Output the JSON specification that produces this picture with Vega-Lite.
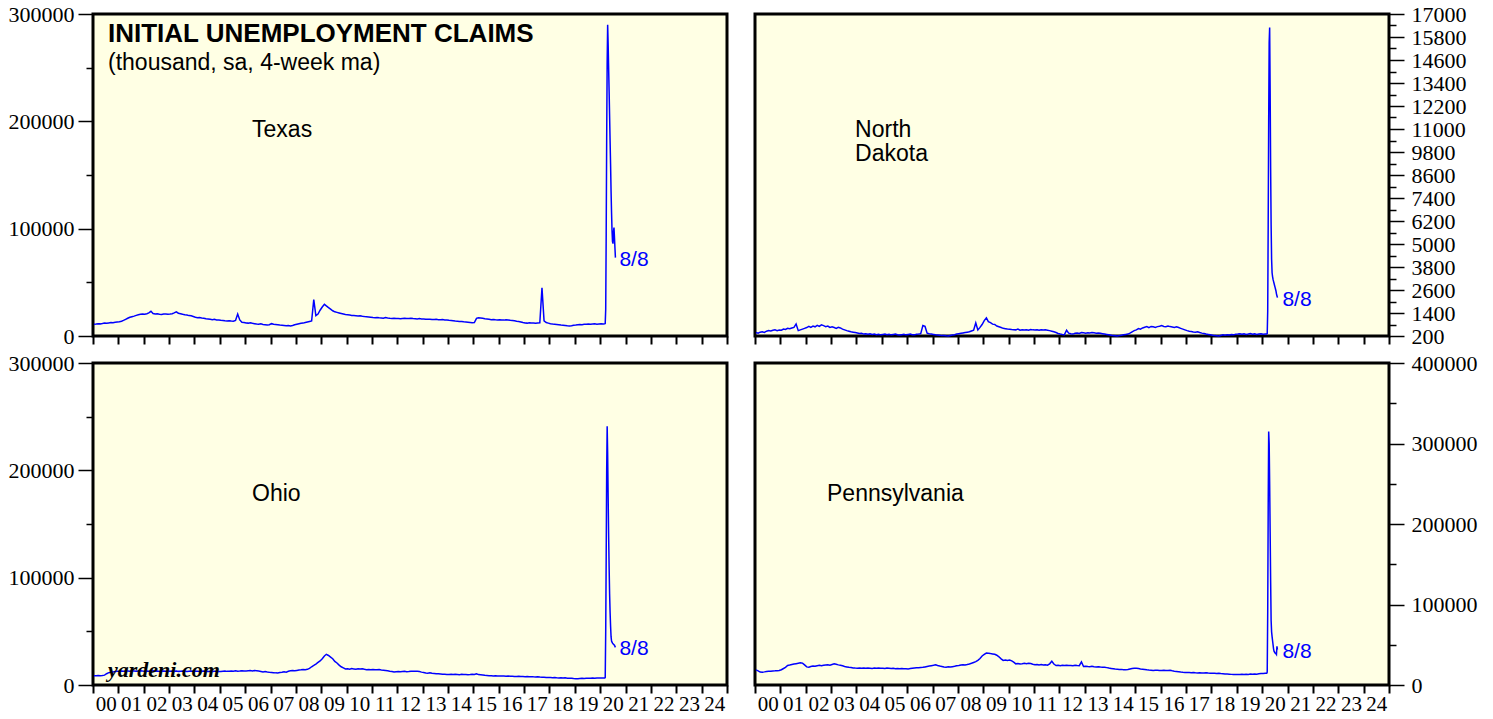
{
"$schema": "https://vega.github.io/schema/vega-lite/v6.json",
"background": "white",
"padding": {"left": 6, "top": 1, "right": 5, "bottom": 0},
"config": {
  "view": {"fill": "#FFFFE4", "stroke": "black", "strokeWidth": 3},
  "axis": {"labelFont": "Liberation Serif", "labelFontSize": 22, "labelColor": "black", "tickColor": "black", "domain": false, "grid": false, "title": null, "tickWidth": 1.5},
  "text": {"font": "Liberation Sans"},
  "line": {"color": "#0000FF", "strokeWidth": 1.5}
},
"datasets": {"m": [
{"d":"2000-01-15","tx":11000,"nd":380,"oh":8700,"pa":18800},
{"d":"2000-02-15","tx":11200,"nd":350,"oh":8600,"pa":17500},
{"d":"2000-03-15","tx":11500,"nd":400,"oh":8800,"pa":16000},
{"d":"2000-04-15","tx":11300,"nd":420,"oh":8700,"pa":15900},
{"d":"2000-05-15","tx":11600,"nd":390,"oh":8900,"pa":16300},
{"d":"2000-06-15","tx":12000,"nd":450,"oh":9200,"pa":16800},
{"d":"2000-07-15","tx":11800,"nd":480,"oh":10500,"pa":17000},
{"d":"2000-08-15","tx":12200,"nd":460,"oh":11500,"pa":17200},
{"d":"2000-09-15","tx":12500,"nd":500,"oh":11900,"pa":17500},
{"d":"2000-10-15","tx":12400,"nd":520,"oh":12200,"pa":17600},
{"d":"2000-11-15","tx":12800,"nd":480,"oh":12500,"pa":17800},
{"d":"2000-12-15","tx":13000,"nd":510,"oh":12800,"pa":18000},
{"d":"2001-01-15","tx":13200,"nd":500,"oh":12900,"pa":19000},
{"d":"2001-02-15","tx":13800,"nd":560,"oh":13000,"pa":20500},
{"d":"2001-03-15","tx":14500,"nd":540,"oh":12800,"pa":22000},
{"d":"2001-04-15","tx":15500,"nd":600,"oh":13100,"pa":24200},
{"d":"2001-05-15","tx":16500,"nd":580,"oh":13000,"pa":24800},
{"d":"2001-06-15","tx":17500,"nd":620,"oh":12900,"pa":25500},
{"d":"2001-07-15","tx":18000,"nd":650,"oh":13200,"pa":26000},
{"d":"2001-08-15","tx":18500,"nd":830,"oh":13000,"pa":26500},
{"d":"2001-09-15","tx":19200,"nd":480,"oh":12800,"pa":27000},
{"d":"2001-10-15","tx":19800,"nd":520,"oh":13100,"pa":27500},
{"d":"2001-11-15","tx":20200,"nd":560,"oh":13300,"pa":27200},
{"d":"2001-12-15","tx":20500,"nd":600,"oh":13000,"pa":25000},
{"d":"2002-01-15","tx":20300,"nd":640,"oh":12900,"pa":22500},
{"d":"2002-02-15","tx":20800,"nd":700,"oh":13100,"pa":22100},
{"d":"2002-03-15","tx":21500,"nd":650,"oh":12800,"pa":23000},
{"d":"2002-04-15","tx":23000,"nd":720,"oh":13000,"pa":23500},
{"d":"2002-05-15","tx":21000,"nd":680,"oh":13200,"pa":23200},
{"d":"2002-06-15","tx":20500,"nd":760,"oh":12900,"pa":24000},
{"d":"2002-07-15","tx":20800,"nd":700,"oh":13100,"pa":24500},
{"d":"2002-08-15","tx":20200,"nd":780,"oh":12700,"pa":23800},
{"d":"2002-09-15","tx":20000,"nd":740,"oh":12900,"pa":24400},
{"d":"2002-10-15","tx":20400,"nd":690,"oh":13000,"pa":24800},
{"d":"2002-11-15","tx":20600,"nd":720,"oh":12800,"pa":25100},
{"d":"2002-12-15","tx":20300,"nd":650,"oh":13000,"pa":24700},
{"d":"2003-01-15","tx":20500,"nd":680,"oh":12800,"pa":25500},
{"d":"2003-02-15","tx":20800,"nd":640,"oh":13000,"pa":26300},
{"d":"2003-03-15","tx":21500,"nd":600,"oh":12900,"pa":25800},
{"d":"2003-04-15","tx":22500,"nd":650,"oh":13100,"pa":25000},
{"d":"2003-05-15","tx":21200,"nd":620,"oh":12700,"pa":24500},
{"d":"2003-06-15","tx":20800,"nd":560,"oh":12900,"pa":23800},
{"d":"2003-07-15","tx":20200,"nd":520,"oh":13000,"pa":23000},
{"d":"2003-08-15","tx":19800,"nd":480,"oh":12800,"pa":22500},
{"d":"2003-09-15","tx":19500,"nd":450,"oh":12600,"pa":22000},
{"d":"2003-10-15","tx":19000,"nd":420,"oh":12900,"pa":21600},
{"d":"2003-11-15","tx":18800,"nd":400,"oh":13000,"pa":21200},
{"d":"2003-12-15","tx":18200,"nd":380,"oh":12800,"pa":21000},
{"d":"2004-01-15","tx":17500,"nd":360,"oh":12700,"pa":20900},
{"d":"2004-02-15","tx":17000,"nd":330,"oh":12900,"pa":21200},
{"d":"2004-03-15","tx":17200,"nd":340,"oh":12600,"pa":20800},
{"d":"2004-04-15","tx":16800,"nd":300,"oh":12800,"pa":21000},
{"d":"2004-05-15","tx":16500,"nd":320,"oh":13000,"pa":20700},
{"d":"2004-06-15","tx":16000,"nd":290,"oh":12700,"pa":21100},
{"d":"2004-07-15","tx":15800,"nd":310,"oh":12500,"pa":20900},
{"d":"2004-08-15","tx":15500,"nd":280,"oh":12800,"pa":20600},
{"d":"2004-09-15","tx":15200,"nd":300,"oh":12600,"pa":21000},
{"d":"2004-10-15","tx":15500,"nd":270,"oh":12900,"pa":20800},
{"d":"2004-11-15","tx":15000,"nd":290,"oh":12700,"pa":21200},
{"d":"2004-12-15","tx":14800,"nd":260,"oh":12500,"pa":20900},
{"d":"2005-01-15","tx":14600,"nd":280,"oh":12600,"pa":20900},
{"d":"2005-02-15","tx":14500,"nd":300,"oh":12900,"pa":20600},
{"d":"2005-03-15","tx":14200,"nd":270,"oh":13000,"pa":21000},
{"d":"2005-04-15","tx":14000,"nd":290,"oh":12700,"pa":20800},
{"d":"2005-05-15","tx":14300,"nd":260,"oh":12800,"pa":20500},
{"d":"2005-06-15","tx":14000,"nd":280,"oh":13100,"pa":20700},
{"d":"2005-07-15","tx":13800,"nd":300,"oh":12900,"pa":20300},
{"d":"2005-08-15","tx":14500,"nd":270,"oh":13200,"pa":20600},
{"d":"2005-09-15","tx":20500,"nd":250,"oh":12800,"pa":20200},
{"d":"2005-10-15","tx":15000,"nd":270,"oh":13000,"pa":20400},
{"d":"2005-11-15","tx":12800,"nd":290,"oh":13300,"pa":20100},
{"d":"2005-12-15","tx":12500,"nd":260,"oh":13100,"pa":20300},
{"d":"2006-01-15","tx":12200,"nd":280,"oh":13000,"pa":20000},
{"d":"2006-02-15","tx":12000,"nd":300,"oh":13200,"pa":20400},
{"d":"2006-03-15","tx":12300,"nd":270,"oh":13400,"pa":20800},
{"d":"2006-04-15","tx":11800,"nd":260,"oh":13100,"pa":21200},
{"d":"2006-05-15","tx":11500,"nd":290,"oh":13600,"pa":21500},
{"d":"2006-06-15","tx":11200,"nd":300,"oh":13300,"pa":21300},
{"d":"2006-07-15","tx":11000,"nd":320,"oh":13000,"pa":21800},
{"d":"2006-08-15","tx":11300,"nd":750,"oh":12600,"pa":22000},
{"d":"2006-09-15","tx":10800,"nd":700,"oh":12200,"pa":22500},
{"d":"2006-10-15","tx":10500,"nd":350,"oh":12500,"pa":23000},
{"d":"2006-11-15","tx":10200,"nd":320,"oh":12100,"pa":23500},
{"d":"2006-12-15","tx":10500,"nd":300,"oh":11800,"pa":24000},
{"d":"2007-01-15","tx":11500,"nd":280,"oh":11700,"pa":24500},
{"d":"2007-02-15","tx":11000,"nd":260,"oh":11500,"pa":25100},
{"d":"2007-03-15","tx":10800,"nd":250,"oh":11300,"pa":24200},
{"d":"2007-04-15","tx":10500,"nd":240,"oh":11200,"pa":23500},
{"d":"2007-05-15","tx":10200,"nd":220,"oh":11600,"pa":23000},
{"d":"2007-06-15","tx":10000,"nd":230,"oh":11900,"pa":22400},
{"d":"2007-07-15","tx":9800,"nd":210,"oh":12300,"pa":22100},
{"d":"2007-08-15","tx":9500,"nd":200,"oh":12000,"pa":22600},
{"d":"2007-09-15","tx":9800,"nd":230,"oh":12800,"pa":22300},
{"d":"2007-10-15","tx":9300,"nd":250,"oh":13200,"pa":22800},
{"d":"2007-11-15","tx":9800,"nd":270,"oh":13500,"pa":23200},
{"d":"2007-12-15","tx":10500,"nd":300,"oh":13300,"pa":23900},
{"d":"2008-01-15","tx":11000,"nd":320,"oh":13600,"pa":24300},
{"d":"2008-02-15","tx":11500,"nd":340,"oh":13900,"pa":24800},
{"d":"2008-03-15","tx":11800,"nd":360,"oh":14100,"pa":25100},
{"d":"2008-04-15","tx":12000,"nd":380,"oh":14400,"pa":24900},
{"d":"2008-05-15","tx":12500,"nd":400,"oh":14200,"pa":25500},
{"d":"2008-06-15","tx":13000,"nd":420,"oh":14600,"pa":26200},
{"d":"2008-07-15","tx":13500,"nd":460,"oh":15500,"pa":27000},
{"d":"2008-08-15","tx":14000,"nd":500,"oh":17000,"pa":28000},
{"d":"2008-09-15","tx":34000,"nd":880,"oh":18200,"pa":29000},
{"d":"2008-10-15","tx":19000,"nd":520,"oh":19500,"pa":30600},
{"d":"2008-11-15","tx":20500,"nd":650,"oh":21000,"pa":33000},
{"d":"2008-12-15","tx":24000,"nd":800,"oh":22400,"pa":36000},
{"d":"2009-01-15","tx":27000,"nd":1000,"oh":24500,"pa":38000},
{"d":"2009-02-15","tx":29500,"nd":1150,"oh":27000,"pa":39700},
{"d":"2009-03-15","tx":28000,"nd":950,"oh":28600,"pa":39500},
{"d":"2009-04-15","tx":26500,"nd":900,"oh":27500,"pa":39000},
{"d":"2009-05-15","tx":25000,"nd":820,"oh":26000,"pa":38600},
{"d":"2009-06-15","tx":23500,"nd":800,"oh":24500,"pa":38100},
{"d":"2009-07-15","tx":22500,"nd":720,"oh":22000,"pa":37000},
{"d":"2009-08-15","tx":22000,"nd":680,"oh":20500,"pa":35000},
{"d":"2009-09-15","tx":21500,"nd":640,"oh":18500,"pa":32500},
{"d":"2009-10-15","tx":21000,"nd":600,"oh":17000,"pa":30600},
{"d":"2009-11-15","tx":20500,"nd":580,"oh":16000,"pa":31000},
{"d":"2009-12-15","tx":20000,"nd":560,"oh":15000,"pa":30500},
{"d":"2010-01-15","tx":19800,"nd":555,"oh":15200,"pa":31000},
{"d":"2010-02-15","tx":19500,"nd":540,"oh":14800,"pa":30000},
{"d":"2010-03-15","tx":19200,"nd":530,"oh":15300,"pa":28500},
{"d":"2010-04-15","tx":19000,"nd":520,"oh":15000,"pa":26300},
{"d":"2010-05-15","tx":18800,"nd":560,"oh":14700,"pa":26800},
{"d":"2010-06-15","tx":18600,"nd":500,"oh":15100,"pa":26100},
{"d":"2010-07-15","tx":18900,"nd":520,"oh":14900,"pa":26500},
{"d":"2010-08-15","tx":18500,"nd":510,"oh":15200,"pa":27000},
{"d":"2010-09-15","tx":18200,"nd":530,"oh":14600,"pa":26400},
{"d":"2010-10-15","tx":18000,"nd":500,"oh":14300,"pa":27000},
{"d":"2010-11-15","tx":17800,"nd":540,"oh":14500,"pa":26600},
{"d":"2010-12-15","tx":17500,"nd":520,"oh":14200,"pa":25800},
{"d":"2011-01-15","tx":17200,"nd":510,"oh":14400,"pa":25100},
{"d":"2011-02-15","tx":17000,"nd":520,"oh":14100,"pa":25500},
{"d":"2011-03-15","tx":17300,"nd":500,"oh":14200,"pa":25000},
{"d":"2011-04-15","tx":17000,"nd":530,"oh":14500,"pa":25400},
{"d":"2011-05-15","tx":16800,"nd":510,"oh":14000,"pa":24800},
{"d":"2011-06-15","tx":16500,"nd":520,"oh":13800,"pa":25200},
{"d":"2011-07-15","tx":17200,"nd":500,"oh":13500,"pa":24700},
{"d":"2011-08-15","tx":16800,"nd":480,"oh":13200,"pa":26300},
{"d":"2011-09-15","tx":16500,"nd":450,"oh":12800,"pa":29500},
{"d":"2011-10-15","tx":16300,"nd":420,"oh":12500,"pa":26000},
{"d":"2011-11-15","tx":16600,"nd":380,"oh":12100,"pa":24200},
{"d":"2011-12-15","tx":16400,"nd":330,"oh":12400,"pa":24500},
{"d":"2012-01-15","tx":16200,"nd":300,"oh":12600,"pa":24000},
{"d":"2012-02-15","tx":16000,"nd":280,"oh":12300,"pa":24400},
{"d":"2012-03-15","tx":16400,"nd":270,"oh":12500,"pa":24100},
{"d":"2012-04-15","tx":16500,"nd":500,"oh":12700,"pa":24600},
{"d":"2012-05-15","tx":16200,"nd":350,"oh":12400,"pa":24200},
{"d":"2012-06-15","tx":16300,"nd":320,"oh":12600,"pa":24300},
{"d":"2012-07-15","tx":16500,"nd":300,"oh":12900,"pa":24000},
{"d":"2012-08-15","tx":16200,"nd":340,"oh":12700,"pa":24500},
{"d":"2012-09-15","tx":16000,"nd":360,"oh":12900,"pa":24200},
{"d":"2012-10-15","tx":15800,"nd":330,"oh":12800,"pa":24000},
{"d":"2012-11-15","tx":16200,"nd":380,"oh":12500,"pa":28700},
{"d":"2012-12-15","tx":15900,"nd":370,"oh":12000,"pa":23000},
{"d":"2013-01-15","tx":15800,"nd":350,"oh":11600,"pa":23400},
{"d":"2013-02-15","tx":15600,"nd":370,"oh":11200,"pa":23000},
{"d":"2013-03-15","tx":15500,"nd":360,"oh":11000,"pa":22800},
{"d":"2013-04-15","tx":15700,"nd":380,"oh":11300,"pa":23200},
{"d":"2013-05-15","tx":15400,"nd":370,"oh":10900,"pa":22700},
{"d":"2013-06-15","tx":15300,"nd":350,"oh":10700,"pa":22500},
{"d":"2013-07-15","tx":15500,"nd":360,"oh":10500,"pa":22800},
{"d":"2013-08-15","tx":15200,"nd":340,"oh":10400,"pa":22400},
{"d":"2013-09-15","tx":15100,"nd":320,"oh":10200,"pa":22200},
{"d":"2013-10-15","tx":15300,"nd":300,"oh":10000,"pa":22100},
{"d":"2013-11-15","tx":15000,"nd":280,"oh":9900,"pa":21600},
{"d":"2013-12-15","tx":14800,"nd":260,"oh":9800,"pa":21000},
{"d":"2014-01-15","tx":14600,"nd":240,"oh":9800,"pa":20600},
{"d":"2014-02-15","tx":14500,"nd":220,"oh":9900,"pa":20200},
{"d":"2014-03-15","tx":14300,"nd":210,"oh":9700,"pa":19800},
{"d":"2014-04-15","tx":14000,"nd":200,"oh":10000,"pa":19500},
{"d":"2014-05-15","tx":13800,"nd":220,"oh":9800,"pa":19200},
{"d":"2014-06-15","tx":13600,"nd":240,"oh":9600,"pa":19400},
{"d":"2014-07-15","tx":13500,"nd":260,"oh":9900,"pa":19000},
{"d":"2014-08-15","tx":13200,"nd":280,"oh":9700,"pa":18800},
{"d":"2014-09-15","tx":13000,"nd":300,"oh":9800,"pa":19300},
{"d":"2014-10-15","tx":12800,"nd":350,"oh":9600,"pa":19900},
{"d":"2014-11-15","tx":12600,"nd":420,"oh":9700,"pa":20500},
{"d":"2014-12-15","tx":12400,"nd":480,"oh":9900,"pa":20900},
{"d":"2015-01-15","tx":12500,"nd":520,"oh":9800,"pa":20900},
{"d":"2015-02-15","tx":16500,"nd":590,"oh":10500,"pa":20500},
{"d":"2015-03-15","tx":17000,"nd":560,"oh":9700,"pa":20000},
{"d":"2015-04-15","tx":16800,"nd":620,"oh":9500,"pa":19600},
{"d":"2015-05-15","tx":16500,"nd":660,"oh":9300,"pa":19200},
{"d":"2015-06-15","tx":16000,"nd":690,"oh":9000,"pa":18800},
{"d":"2015-07-15","tx":15800,"nd":640,"oh":8900,"pa":18500},
{"d":"2015-08-15","tx":15500,"nd":700,"oh":8700,"pa":18300},
{"d":"2015-09-15","tx":15200,"nd":680,"oh":8600,"pa":18000},
{"d":"2015-10-15","tx":15400,"nd":650,"oh":8500,"pa":18200},
{"d":"2015-11-15","tx":15100,"nd":690,"oh":8600,"pa":18400},
{"d":"2015-12-15","tx":15000,"nd":710,"oh":8400,"pa":18100},
{"d":"2016-01-15","tx":15200,"nd":740,"oh":8500,"pa":18000},
{"d":"2016-02-15","tx":15000,"nd":700,"oh":8300,"pa":18300},
{"d":"2016-03-15","tx":14800,"nd":680,"oh":8400,"pa":17900},
{"d":"2016-04-15","tx":15200,"nd":720,"oh":8200,"pa":18000},
{"d":"2016-05-15","tx":15000,"nd":690,"oh":8300,"pa":18200},
{"d":"2016-06-15","tx":14600,"nd":670,"oh":8100,"pa":17600},
{"d":"2016-07-15","tx":14400,"nd":650,"oh":8200,"pa":17200},
{"d":"2016-08-15","tx":14200,"nd":680,"oh":8000,"pa":16900},
{"d":"2016-09-15","tx":13800,"nd":640,"oh":7900,"pa":16500},
{"d":"2016-10-15","tx":13500,"nd":600,"oh":8100,"pa":16100},
{"d":"2016-11-15","tx":13000,"nd":560,"oh":8000,"pa":15800},
{"d":"2016-12-15","tx":12500,"nd":520,"oh":7900,"pa":15600},
{"d":"2017-01-15","tx":12200,"nd":480,"oh":7800,"pa":15400},
{"d":"2017-02-15","tx":12000,"nd":450,"oh":7900,"pa":15600},
{"d":"2017-03-15","tx":12300,"nd":430,"oh":7700,"pa":15300},
{"d":"2017-04-15","tx":12100,"nd":410,"oh":7800,"pa":15500},
{"d":"2017-05-15","tx":12000,"nd":400,"oh":7600,"pa":15200},
{"d":"2017-06-15","tx":11800,"nd":420,"oh":7500,"pa":15000},
{"d":"2017-07-15","tx":12000,"nd":380,"oh":7700,"pa":15300},
{"d":"2017-08-15","tx":12200,"nd":350,"oh":7400,"pa":14900},
{"d":"2017-09-15","tx":45000,"nd":330,"oh":7200,"pa":14800},
{"d":"2017-10-15","tx":14000,"nd":300,"oh":7300,"pa":15100},
{"d":"2017-11-15","tx":12500,"nd":280,"oh":7100,"pa":14800},
{"d":"2017-12-15","tx":12000,"nd":260,"oh":7000,"pa":14600},
{"d":"2018-01-15","tx":11500,"nd":240,"oh":6900,"pa":14700},
{"d":"2018-02-15","tx":11200,"nd":220,"oh":6800,"pa":14600},
{"d":"2018-03-15","tx":11000,"nd":210,"oh":6900,"pa":14400},
{"d":"2018-04-15","tx":10800,"nd":200,"oh":6700,"pa":14500},
{"d":"2018-05-15","tx":10500,"nd":230,"oh":6600,"pa":14200},
{"d":"2018-06-15","tx":10200,"nd":260,"oh":6800,"pa":14000},
{"d":"2018-07-15","tx":10000,"nd":240,"oh":6500,"pa":13800},
{"d":"2018-08-15","tx":9800,"nd":270,"oh":6700,"pa":13600},
{"d":"2018-09-15","tx":9500,"nd":250,"oh":6400,"pa":13400},
{"d":"2018-10-15","tx":9300,"nd":280,"oh":6300,"pa":13200},
{"d":"2018-11-15","tx":9600,"nd":260,"oh":6200,"pa":13000},
{"d":"2018-12-15","tx":10000,"nd":290,"oh":6000,"pa":12900},
{"d":"2019-01-15","tx":10200,"nd":300,"oh":5900,"pa":12900},
{"d":"2019-02-15","tx":10500,"nd":320,"oh":5800,"pa":13100},
{"d":"2019-03-15","tx":10800,"nd":290,"oh":6000,"pa":13300},
{"d":"2019-04-15","tx":10600,"nd":310,"oh":6200,"pa":13000},
{"d":"2019-05-15","tx":10900,"nd":280,"oh":6100,"pa":13400},
{"d":"2019-06-15","tx":11000,"nd":300,"oh":6300,"pa":13200},
{"d":"2019-07-15","tx":11200,"nd":330,"oh":6400,"pa":13600},
{"d":"2019-08-15","tx":10900,"nd":290,"oh":6200,"pa":13300},
{"d":"2019-09-15","tx":11100,"nd":310,"oh":6500,"pa":13800},
{"d":"2019-10-15","tx":11300,"nd":280,"oh":6300,"pa":13500},
{"d":"2019-11-15","tx":11000,"nd":300,"oh":6600,"pa":14000},
{"d":"2019-12-15","tx":11200,"nd":320,"oh":6500,"pa":14200},
{"d":"2020-01-15","tx":11300,"nd":290,"oh":6600,"pa":14400},
{"d":"2020-02-15","tx":11200,"nd":300,"oh":6500,"pa":14600},
{"d":"2020-03-07","tx":11400,"nd":300,"oh":6500,"pa":14600},
{"d":"2020-03-14","tx":11600,"nd":320,"oh":6800,"pa":16000},
{"d":"2020-03-21","tx":25000,"nd":1500,"oh":50000,"pa":90000},
{"d":"2020-03-28","tx":95000,"nd":6000,"oh":120000,"pa":220000},
{"d":"2020-04-04","tx":185000,"nd":11500,"oh":200000,"pa":315000},
{"d":"2020-04-11","tx":255000,"nd":15500,"oh":241000,"pa":300000},
{"d":"2020-04-18","tx":290000,"nd":16300,"oh":215000,"pa":250000},
{"d":"2020-04-25","tx":272000,"nd":13000,"oh":175000,"pa":190000},
{"d":"2020-05-02","tx":250000,"nd":9000,"oh":140000,"pa":130000},
{"d":"2020-05-09","tx":228000,"nd":6000,"oh":110000,"pa":80000},
{"d":"2020-05-16","tx":205000,"nd":4200,"oh":85000,"pa":66000},
{"d":"2020-05-23","tx":182000,"nd":3500,"oh":68000,"pa":60000},
{"d":"2020-05-30","tx":160000,"nd":3300,"oh":55000,"pa":55000},
{"d":"2020-06-06","tx":135000,"nd":3150,"oh":45000,"pa":50000},
{"d":"2020-06-13","tx":115000,"nd":3050,"oh":41000,"pa":45000},
{"d":"2020-06-20","tx":98000,"nd":2950,"oh":40000,"pa":42000},
{"d":"2020-06-27","tx":88000,"nd":2850,"oh":39000,"pa":41000},
{"d":"2020-07-04","tx":86000,"nd":2750,"oh":38500,"pa":40000},
{"d":"2020-07-11","tx":97000,"nd":2650,"oh":38000,"pa":39000},
{"d":"2020-07-18","tx":101000,"nd":2550,"oh":37500,"pa":39000},
{"d":"2020-07-25","tx":92000,"nd":2400,"oh":37000,"pa":38000},
{"d":"2020-08-01","tx":82000,"nd":2300,"oh":36000,"pa":48000},
{"d":"2020-08-08","tx":73000,"nd":2200,"oh":35000,"pa":44000}
]},
"spacing": 1,
"vconcat": [
 {"hconcat": [
  {"width": 634, "height": 322, "data": {"name": "m"},
   "encoding": {
    "x": {"field": "d", "type": "temporal", "scale": {"domain": [{"year": 2000, "month": 1, "date": 1}, {"year": 2025, "month": 1, "date": 1}]}, "axis": {"labels": false, "tickCount": {"interval": "year", "step": 1}, "tickSize": 8, "tickWidth": 2}},
    "y": {"field": "tx", "type": "quantitative", "scale": {"domain": [0, 300000], "nice": false}, "axis": {"orient": "left", "values": [0,50000,100000,150000,200000,250000,300000], "format": "d", "labelExpr": "datum.value % 100000 == 0 ? datum.label : ''", "tickSize": {"condition": {"test": "datum.value % 100000 == 0", "value": 15}, "value": 7}, "labelPadding": 4}}
   },
   "layer": [
    {"mark": {"type": "line"}},
    {"transform": [{"filter": "utcFormat(datum.d, '%Y-%m-%d') == '2020-08-08'"}], "mark": {"type": "text", "text": "8/8", "align": "left", "baseline": "middle", "dx": 4, "dy": 2, "fontSize": 21, "color": "#0000FF"}},
    {"transform": [{"filter": "utcFormat(datum.d, '%Y-%m-%d') == '2020-08-08'"}], "mark": {"type": "text", "text": "INITIAL UNEMPLOYMENT CLAIMS", "align": "left", "baseline": "middle", "fontSize": 26, "fontWeight": "bold", "color": "black"}, "encoding": {"x": {"datum": 965347200000, "type": "temporal"}, "y": {"datum": 281500, "type": "quantitative"}}},
    {"transform": [{"filter": "utcFormat(datum.d, '%Y-%m-%d') == '2020-08-08'"}], "mark": {"type": "text", "text": "(thousand, sa, 4-week ma)", "align": "left", "baseline": "middle", "fontSize": 23, "color": "black"}, "encoding": {"x": {"datum": 965347200000, "type": "temporal"}, "y": {"datum": 254400, "type": "quantitative"}}},
    {"transform": [{"filter": "utcFormat(datum.d, '%Y-%m-%d') == '2020-08-08'"}], "mark": {"type": "text", "text": "Texas", "align": "left", "baseline": "middle", "fontSize": 23, "color": "black"}, "encoding": {"x": {"datum": 1144627200000, "type": "temporal"}, "y": {"datum": 192000, "type": "quantitative"}}}
   ]
  },
  {"width": 634, "height": 322, "data": {"name": "m"},
   "encoding": {
    "x": {"field": "d", "type": "temporal", "scale": {"domain": [{"year": 2000, "month": 1, "date": 1}, {"year": 2025, "month": 1, "date": 1}]}, "axis": {"labels": false, "tickCount": {"interval": "year", "step": 1}, "tickSize": 8, "tickWidth": 2}},
    "y": {"field": "nd", "type": "quantitative", "scale": {"domain": [200, 17000], "nice": false, "zero": false}, "axis": {"orient": "right", "values": [200,800,1400,2000,2600,3200,3800,4400,5000,5600,6200,6800,7400,8000,8600,9200,9800,10400,11000,11600,12200,12800,13400,14000,14600,15200,15800,16400,17000], "format": "d", "labelExpr": "(datum.value - 200) % 1200 == 0 ? datum.label : ''", "tickSize": {"condition": {"test": "(datum.value - 200) % 1200 == 0", "value": 15}, "value": 7}, "labelPadding": 7}}
   },
   "layer": [
    {"mark": {"type": "line"}},
    {"transform": [{"filter": "utcFormat(datum.d, '%Y-%m-%d') == '2020-08-08'"}], "mark": {"type": "text", "text": "8/8", "align": "left", "baseline": "middle", "dx": 5, "dy": 2, "fontSize": 21, "color": "#0000FF"}},
    {"transform": [{"filter": "utcFormat(datum.d, '%Y-%m-%d') == '2020-08-08'"}], "mark": {"type": "text", "text": "North", "align": "left", "baseline": "middle", "fontSize": 23, "color": "black"}, "encoding": {"x": {"datum": 1071273600000, "type": "temporal"}, "y": {"datum": 10950, "type": "quantitative"}}},
    {"transform": [{"filter": "utcFormat(datum.d, '%Y-%m-%d') == '2020-08-08'"}], "mark": {"type": "text", "text": "Dakota", "align": "left", "baseline": "middle", "fontSize": 23, "color": "black"}, "encoding": {"x": {"datum": 1071273600000, "type": "temporal"}, "y": {"datum": 9700, "type": "quantitative"}}}
   ]
  }
 ], "spacing": 28, "bounds": "flush"},
 {"hconcat": [
  {"width": 634, "height": 322, "data": {"name": "m"},
   "encoding": {
    "x": {"field": "d", "type": "temporal", "scale": {"domain": [{"year": 2000, "month": 1, "date": 1}, {"year": 2025, "month": 1, "date": 1}]}, "axis": {"tickCount": {"interval": "year", "step": 1}, "tickSize": 8, "tickWidth": 2, "labelOffset": 12.7, "labelFlush": false, "labelOverlap": false, "labelPadding": 0, "labelFontSize": 21, "labelExpr": "year(datum.value) >= 2025 ? '' : timeFormat(datum.value, '%y')"}},
    "y": {"field": "oh", "type": "quantitative", "scale": {"domain": [0, 300000], "nice": false}, "axis": {"orient": "left", "values": [0,50000,100000,150000,200000,250000,300000], "format": "d", "labelExpr": "datum.value % 100000 == 0 ? datum.label : ''", "tickSize": {"condition": {"test": "datum.value % 100000 == 0", "value": 15}, "value": 7}, "labelPadding": 4}}
   },
   "layer": [
    {"mark": {"type": "line"}},
    {"transform": [{"filter": "utcFormat(datum.d, '%Y-%m-%d') == '2020-08-08'"}], "mark": {"type": "text", "text": "8/8", "align": "left", "baseline": "middle", "dx": 4, "dy": 2, "fontSize": 21, "color": "#0000FF"}},
    {"transform": [{"filter": "utcFormat(datum.d, '%Y-%m-%d') == '2020-08-08'"}], "mark": {"type": "text", "text": "Ohio", "align": "left", "baseline": "middle", "fontSize": 23, "color": "black"}, "encoding": {"x": {"datum": 1144627200000, "type": "temporal"}, "y": {"datum": 178000, "type": "quantitative"}}},
    {"transform": [{"filter": "utcFormat(datum.d, '%Y-%m-%d') == '2020-08-08'"}], "mark": {"type": "text", "text": "yardeni.com", "align": "left", "baseline": "middle", "fontSize": 22, "fontWeight": "bold", "fontStyle": "italic", "font": "Liberation Serif", "color": "black"}, "encoding": {"x": {"datum": 965347200000, "type": "temporal"}, "y": {"datum": 14000, "type": "quantitative"}}}
   ]
  },
  {"width": 634, "height": 322, "data": {"name": "m"},
   "encoding": {
    "x": {"field": "d", "type": "temporal", "scale": {"domain": [{"year": 2000, "month": 1, "date": 1}, {"year": 2025, "month": 1, "date": 1}]}, "axis": {"tickCount": {"interval": "year", "step": 1}, "tickSize": 8, "tickWidth": 2, "labelOffset": 12.7, "labelFlush": false, "labelOverlap": false, "labelPadding": 0, "labelFontSize": 21, "labelExpr": "year(datum.value) >= 2025 ? '' : timeFormat(datum.value, '%y')"}},
    "y": {"field": "pa", "type": "quantitative", "scale": {"domain": [0, 400000], "nice": false}, "axis": {"orient": "right", "values": [0,50000,100000,150000,200000,250000,300000,350000,400000], "format": "d", "labelExpr": "datum.value % 100000 == 0 ? datum.label : ''", "tickSize": {"condition": {"test": "datum.value % 100000 == 0", "value": 15}, "value": 7}, "labelPadding": 7}}
   },
   "layer": [
    {"mark": {"type": "line"}},
    {"transform": [{"filter": "utcFormat(datum.d, '%Y-%m-%d') == '2020-08-08'"}], "mark": {"type": "text", "text": "8/8", "align": "left", "baseline": "middle", "dx": 5, "dy": 2, "fontSize": 21, "color": "#0000FF"}},
    {"transform": [{"filter": "utcFormat(datum.d, '%Y-%m-%d') == '2020-08-08'"}], "mark": {"type": "text", "text": "Pennsylvania", "align": "left", "baseline": "middle", "fontSize": 23, "color": "black"}, "encoding": {"x": {"datum": 1036281600000, "type": "temporal"}, "y": {"datum": 237000, "type": "quantitative"}}}
   ]
  }
 ], "spacing": 28, "bounds": "flush"}
]
}
